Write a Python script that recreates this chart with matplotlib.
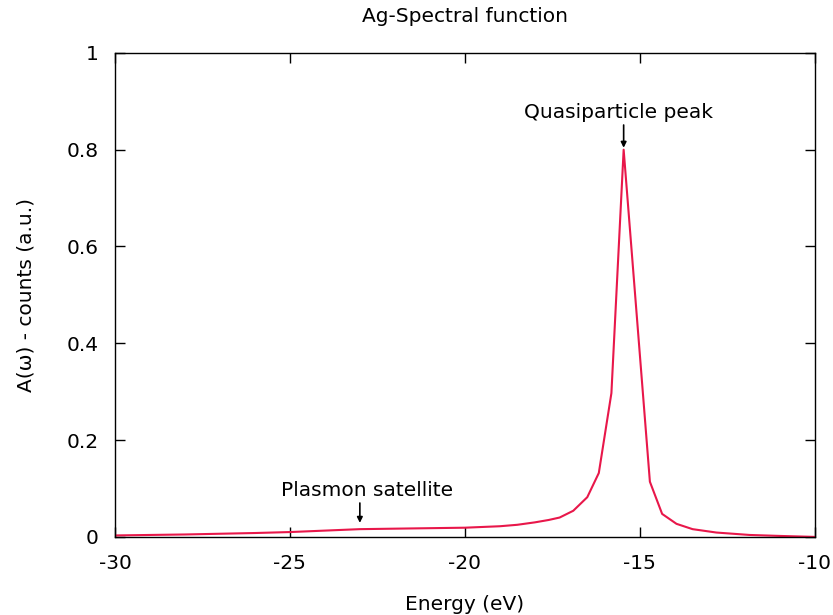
import numpy as np
import matplotlib
matplotlib.use('Agg')
import matplotlib.pyplot as plt

# Spectral function
energy = [-30, -28, -26, -25, -24, -23, -22, -21, -20, -19, -18.5, -18, -17.6,
          -17.29, -16.9, -16.5, -16.17, -15.81, -15.46, -14.71, -14.36, -13.95,
          -13.49, -12.81, -11.86, -11, -10]
counts = [0.003, 0.005, 0.008, 0.010, 0.013, 0.016, 0.017, 0.018, 0.019, 0.022,
          0.025, 0.030, 0.035, 0.040, 0.054, 0.082, 0.132, 0.297, 0.80, 0.114,
          0.0475, 0.027, 0.016, 0.009, 0.004, 0.002, 0.0]

xticks = [-30, -25, -20, -15, -10]
yticks = [0, 0.2, 0.4, 0.6, 0.8, 1]
yticklabels = ['0', '0.2', '0.4', '0.6', '0.8', '1']

fs = 14.5

fig = plt.figure(figsize=(8.33, 6.15), dpi=100)
ax = fig.add_axes([0.138, 0.127, 0.840, 0.787])

ax.plot(energy, counts, color='#e8174a', linewidth=1.5)

ax.set_xlim(-30, -10)
ax.set_ylim(0, 1)
ax.set_xticks(xticks)
ax.set_xticklabels([str(t) for t in xticks])
ax.set_yticks(yticks)
ax.set_yticklabels(yticklabels)
ax.tick_params(direction='in', top=True, right=True, length=7, width=1,
               labelsize=fs)
ax.tick_params(axis='x', pad=12)
ax.tick_params(axis='y', pad=12)
for s in ax.spines.values():
    s.set_linewidth(1.0)

ax.set_xlabel('Energy (eV)', fontsize=fs, labelpad=16)
ax.set_ylabel('A(ω) - counts (a.u.)', fontsize=fs, labelpad=22)
ax.set_title('Ag-Spectral function', fontsize=fs, pad=22)

arrow = dict(arrowstyle='-|>', color='black', linewidth=1.2, mutation_scale=8,
             shrinkA=0, shrinkB=0)
ax.annotate('', xy=(-15.46, 0.804), xytext=(-15.46, 0.851), arrowprops=arrow)
ax.text(-15.6, 0.876, 'Quasiparticle peak', fontsize=fs, ha='center', va='center')
ax.annotate('', xy=(-23.0, 0.029), xytext=(-23.0, 0.07), arrowprops=arrow)
ax.text(-22.8, 0.095, 'Plasmon satellite', fontsize=fs, ha='center', va='center')

fig.savefig('out.png', dpi=100)
